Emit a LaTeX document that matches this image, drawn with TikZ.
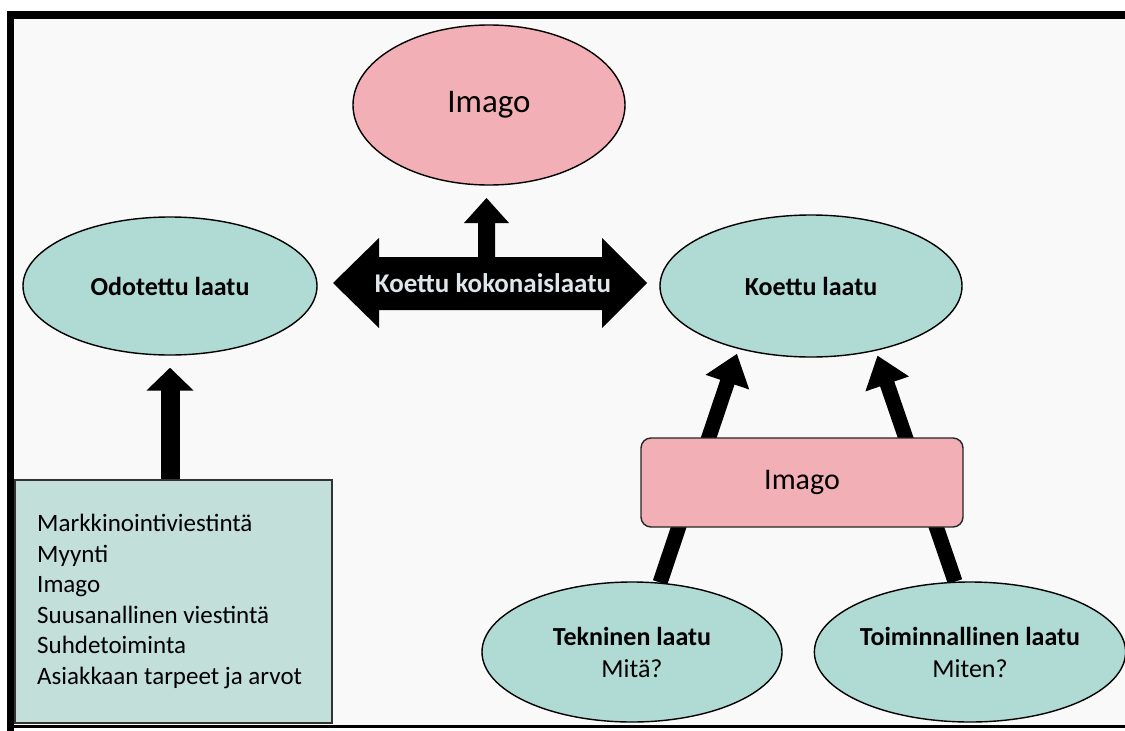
\documentclass[tikz,border=0pt]{standalone}
\usepackage{fontspec}
\setmainfont{Carlito}
\usetikzlibrary{shapes.geometric,arrows.meta}
\definecolor{tealfill}{RGB}{176,218,212}
\definecolor{boxfill}{RGB}{195,223,218}
\definecolor{pinkfill}{RGB}{242,175,181}
\definecolor{pagebg}{RGB}{249,249,249}
\definecolor{arrtext}{RGB}{222,230,234}
\pgfdeclarelayer{back}
\pgfsetlayers{back,main}
\begin{document}
\begin{tikzpicture}[x=1pt,y=-1pt,
  oval/.style={ellipse,draw=black,line width=1.4pt,fill=tealfill,inner sep=0pt},
  lbl/.style={font=\fontsize{26}{32}\selectfont\bfseries},
  fatarrow/.style={line width=15pt,-{Triangle[length=30pt,width=44pt]}},
  uparrow/.style={line width=19pt,-{Triangle[length=23pt,width=46pt]}},
]
\useasboundingbox (0,0) rectangle (1125,731);
\begin{pgfonlayer}{back}
\fill[white] (0,0) rectangle (1125,731);
\fill[pagebg] (14,19) rectangle (1125,726);
\fill[black] (7,11) rectangle (1125,19);
\fill[black] (7,11) rectangle (14,731);
\fill[black] (7,725) rectangle (1125,728);
\end{pgfonlayer}

% nodes
\node[oval,fill=pinkfill,minimum width=272pt,minimum height=160pt,
      font=\fontsize{33}{40}\selectfont] (imtop) at (489,105) {Imago};
\node[oval,minimum width=294pt,minimum height=138pt,lbl] (odot) at (170,286) {Odotettu laatu};
\node[oval,minimum width=302pt,minimum height=142pt,lbl] (koet) at (811,286) {Koettu laatu};
\node[oval,minimum width=300pt,minimum height=140pt,lbl,align=center] (tek) at (632,652)
  {Tekninen laatu\\\mdseries Mitä?};
\node[oval,minimum width=304pt,minimum height=140pt,lbl,align=center] (toim) at (970,652)
  {Toiminnallinen laatu\\\mdseries Miten?};
\node[draw=black!80,line width=1.4pt,fill=boxfill,minimum width=317pt,minimum height=243pt,
      inner sep=0pt] (list) at (173.5,601.5) {};
\node[anchor=west,align=left,inner sep=0pt,font=\fontsize{25}{30.5}\selectfont] (listtext) at (37,601.5)
  {Markkinointiviestintä\\Myynti\\Imago\\Suusanallinen viestintä\\Suhdetoiminta\\Asiakkaan tarpeet ja arvot};
\node[draw=black!85,line width=1.4pt,fill=pinkfill,rounded corners=10pt,minimum width=322pt,
      minimum height=89pt,font=\fontsize{30}{36}\selectfont] (imrect) at (802,482.5) {Imago};

% central double arrow with up arrow
\fill[black] (333,283) -- (379,238) -- (379,257) -- (478,257) -- (478,223) -- (464,223)
  -- (486.5,198) -- (509,223) -- (495,223) -- (495,257) -- (602,257) -- (602,238)
  -- (647,283) -- (602,328) -- (602,310) -- (379,310) -- (379,328) -- cycle;
\node[font=\fontsize{27}{32}\selectfont\bfseries,text=arrtext] (total) at (493,283) {Koettu kokonaislaatu};

% connectors
\begin{pgfonlayer}{back}
\draw[fatarrow,shorten >=5pt] (tek.68) -- (koet.221);
\draw[fatarrow,shorten >=5pt] (toim.102) -- (koet.315);
\draw[uparrow,shorten >=12pt] (list.north -| odot.south) -- (odot.south);
\end{pgfonlayer}
\end{tikzpicture}
\end{document}
